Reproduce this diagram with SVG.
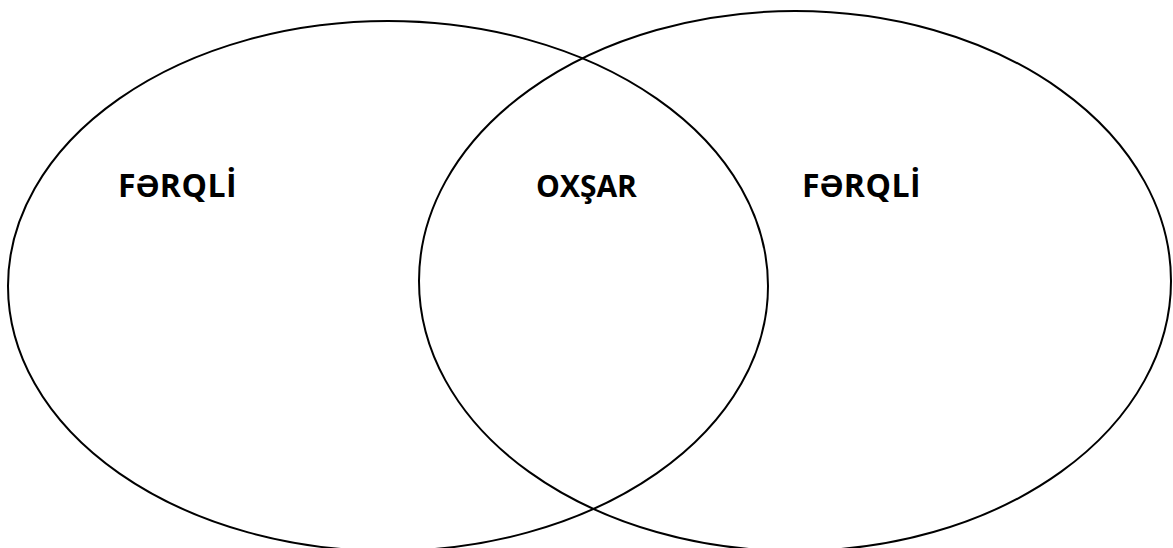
<svg xmlns="http://www.w3.org/2000/svg" width="1173" height="548" viewBox="0 0 1173 548">
<style>
.c{fill:none;stroke:#000;stroke-width:2}
.t{font-family:"Open Sans","Liberation Sans",sans-serif;font-weight:bold;font-size:30px;fill:#000}
.w{font-size:32px;letter-spacing:0.5px}
</style>
<rect width="1173" height="548" fill="#fff"/>
<g id="left">
<ellipse class="c" cx="388" cy="286" rx="380" ry="265"/>
<text class="t w" x="118" y="197">FƏRQLİ</text>
</g>
<g id="right">
<ellipse class="c" cx="795" cy="281" rx="376" ry="270"/>
<text class="t w" x="802" y="197">FƏRQLİ</text>
</g>
<g id="overlap">
<text class="t" x="536" y="197">OXŞAR</text>
</g>
<g id="connectors"/>
</svg>
